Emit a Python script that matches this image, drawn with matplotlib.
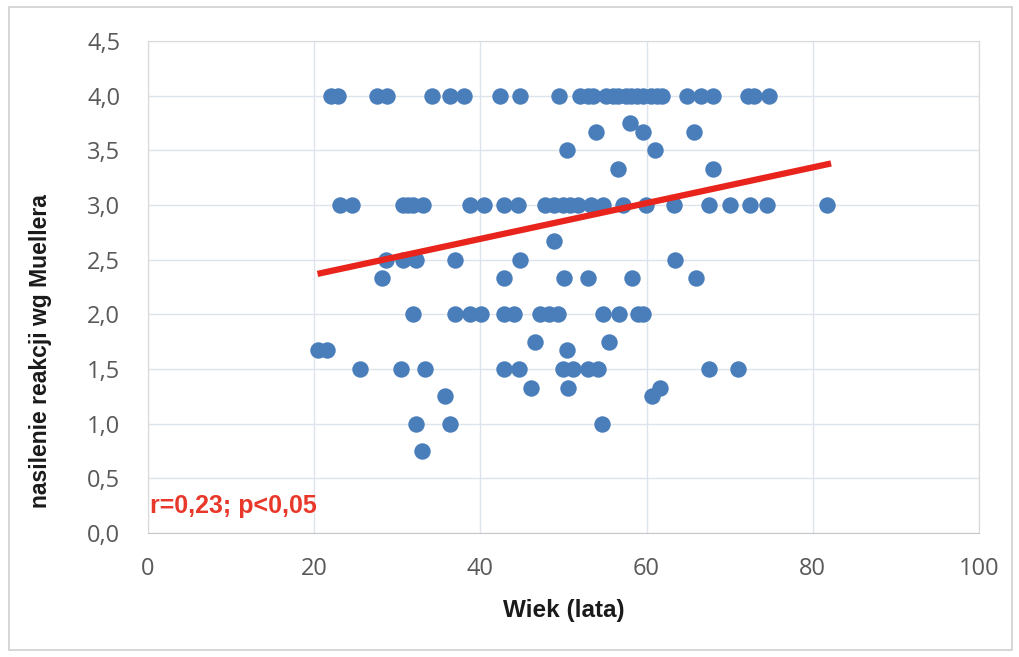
'''Wiek vs nasilenie reakcji wg Muellera - scatter with trend line.'''

import numpy as np
import matplotlib
matplotlib.use('Agg')
import matplotlib.pyplot as plt
from matplotlib.patches import Rectangle

# ages (lata) grouped by score level
age_400 = [22.0, 22.9, 27.6, 28.8, 34.2, 36.4, 38.0, 42.3, 44.8, 49.5, 52.0, 52.9,
           53.5, 55.1, 55.9, 56.6, 57.5, 58.1, 58.9, 59.6, 60.5, 61.2, 61.9, 64.9,
           66.5, 68.0, 72.2, 72.9, 74.7]
age_375 = [58.0]
age_367 = [53.9, 59.6, 65.7]
age_350 = [50.4, 61.0]
age_333 = [56.6, 68.0]
age_300 = [23.1, 24.6, 30.7, 31.3, 31.9, 33.1, 38.8, 40.4, 42.8, 44.5, 47.8, 48.8,
           49.9, 50.8, 51.8, 53.3, 54.7, 57.2, 59.9, 63.3, 67.5, 70.0, 72.4, 74.5, 81.7]
age_267 = [48.8]
age_250 = [28.6, 30.7, 32.3, 36.9, 44.8, 63.4]
age_233 = [28.1, 42.8, 50.1, 53.0, 58.3, 66.0]
age_200 = [31.9, 36.9, 38.7, 40.1, 42.8, 44.0, 47.2, 48.2, 49.3, 54.7, 56.7, 59.0, 59.6]
age_175 = [46.6, 55.5]
age_167 = [20.4, 21.6, 50.4]
age_150 = [25.5, 30.4, 33.3, 42.8, 44.7, 49.9, 51.2, 53.0, 54.2, 67.5, 71.0]
age_133 = [46.1, 50.6, 61.6]
age_125 = [35.7, 60.6]
age_100 = [32.2, 36.3, 54.6]
age_075 = [33.0]

levels = [4.0, 3.75, 3.67, 3.5, 3.33, 3.0, 2.67, 2.5, 2.33, 2.0,
          1.75, 1.67, 1.5, 1.33, 1.25, 1.0, 0.75]
age_groups = [age_400, age_375, age_367, age_350, age_333, age_300, age_267, age_250,
              age_233, age_200, age_175, age_167, age_150, age_133, age_125, age_100, age_075]

# trend line end points
trend_x = [20.4, 82.2]
trend_y = [2.37, 3.38]

xticks = [0, 20, 40, 60, 80, 100]
yticks = [0.0, 0.5, 1.0, 1.5, 2.0, 2.5, 3.0, 3.5, 4.0, 4.5]

xs = np.concatenate([np.array(a) for a in age_groups])
ys = np.concatenate([np.full(len(a), lv) for a, lv in zip(age_groups, levels)])

tick_font = ['Open Sans', 'DejaVu Sans']
label_font = ['Liberation Sans', 'DejaVu Sans']

fig = plt.figure(figsize=(10.19, 6.57), dpi=100)
fig.patches.append(Rectangle((9/1019, 7/657), 1003/1019, 643/657, transform=fig.transFigure,
                             fill=False, edgecolor='#d0d0d0', linewidth=1.2))
ax = fig.add_axes([148/1019, 1 - 533/657, 831/1019, 492/657])

ax.scatter(xs, ys, s=140, color='#4a7ebb', zorder=3, linewidths=0)
ax.plot(trend_x, trend_y, color='#e8241c', linewidth=4.5, solid_capstyle='butt', zorder=4)

ax.set_xlim(0, 100)
ax.set_ylim(0, 4.5)
ax.set_xticks(xticks)
ax.set_yticks(yticks)
ax.set_xticklabels([str(t) for t in xticks], family=tick_font, fontsize=17, color='#595959')
ax.set_yticklabels([('%.1f' % t).replace('.', ',') for t in yticks],
                   family=tick_font, fontsize=17, color='#595959')
ax.tick_params(length=0)
ax.tick_params(axis='x', pad=17)
ax.tick_params(axis='y', pad=20)
ax.grid(True, color='#dde4ec', linewidth=1.0, zorder=0)
ax.set_axisbelow(True)
for sp in ax.spines.values():
    sp.set_color('#d9d9d9')
ax.spines['bottom'].set_color('#c8c8c8')

ax.set_xlabel('Wiek (lata)', family=label_font, fontweight='bold', fontsize=17.5,
              color='#1a1a1a')
ax.set_ylabel('nasilenie reakcji wg Muellera', family=label_font, fontweight='bold',
              fontsize=16.5, color='#1a1a1a')
ax.xaxis.set_label_coords(0.5, -0.135)
ax.yaxis.set_label_coords(-0.116, 0.37)

ax.text(0.003, 0.03, 'r=0,23; p<0,05', transform=ax.transAxes, family=label_font,
        fontweight='bold', fontsize=18, color='#e8382a', ha='left', va='bottom')

fig.savefig('out.png', dpi=100)
